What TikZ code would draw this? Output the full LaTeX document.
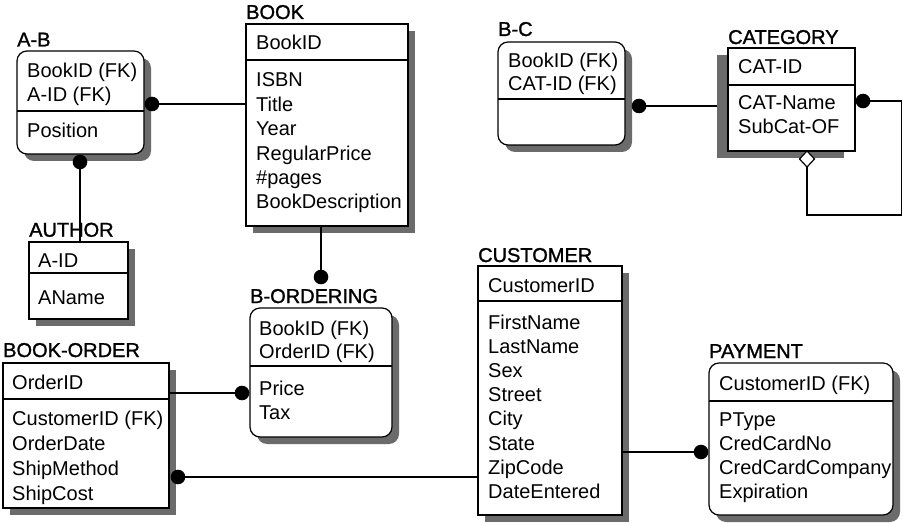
\documentclass[tikz,border=0pt]{standalone}
\usepackage{fontspec}
\setmainfont{Liberation Sans}
\newfontfamily\ttlfont[FakeBold=1.3]{Liberation Sans}
\usetikzlibrary{shapes.geometric}
\tikzset{
  box/.style={draw=black, line width=1.2pt, fill=white, inner sep=0pt, outer sep=0pt, anchor=north west},
  shad/.style={fill=black!58, draw=none, inner sep=0pt, outer sep=0pt, anchor=north west},
  rnd/.style={rounded corners=10pt},
  txt/.style={anchor=base west, inner sep=0pt, font=\fontsize{20}{24}\selectfont},
  ttl/.style={anchor=base west, inner sep=0pt, font=\fontsize{20}{24}\ttlfont},
  conn/.style={line width=1.4pt},
  divl/.style={line width=1.2pt},
  dot/.style={circle, fill=black, draw=none, inner sep=0pt, outer sep=0pt, minimum size=14.6pt},
  dia/.style={diamond, draw=black, fill=white, line width=1.2pt, inner sep=0pt, outer sep=0pt, minimum width=15pt, minimum height=16pt},
}
\newcommand\entbox[8]{%
  \node[shad,#2,minimum width=#5pt,minimum height=#6pt] (#1-s) at (#3+#7,#4+#8) {};
  \node[box,#2,minimum width=#5pt,minimum height=#6pt] (#1) at (#3,#4) {};
}
\newcommand\divider[2]{%
  \coordinate (#1-dv) at (0,#2);
  \draw[divl] (#1.west |- #1-dv) -- (#1.east |- #1-dv);
}
\newcommand\rows[5]{%
  \foreach [count=\i] \t in {#5} {\node[txt] (#1\i) at (#2,#3+#4*\i-#4) {\t};}
}
\begin{document}
\begin{tikzpicture}[x=1pt,y=-1pt]
\useasboundingbox (0,0) rectangle (903,524);

% A-B
\entbox{ab}{rnd}{17}{51}{127}{103}{7}{7}
\node[ttl] (ab-t) at (17,46.5) {A-B};
\rows{ab-k}{27}{78}{24}{BookID (FK),A-ID (FK)}
\divider{ab}{111}
\rows{ab-a}{27}{138}{24}{Position}

% BOOK
\entbox{book}{}{246}{24}{162}{202}{7}{7}
\node[ttl] (book-t) at (246,19) {BOOK};
\rows{book-k}{256}{50}{24}{BookID}
\divider{book}{60}
\rows{book-a}{256}{87}{24.4}{ISBN,Title,Year,RegularPrice,\#pages,BookDescription}

% AUTHOR
\entbox{author}{}{29}{242}{99}{77}{7}{7}
\node[ttl] (author-t) at (29,236.7) {AUTHOR};
\rows{author-k}{38}{267}{24}{A-ID}
\divider{author}{273}
\rows{author-a}{38}{304}{24}{AName}

% B-ORDERING
\entbox{bord}{rnd}{250}{308}{142}{129}{7}{7}
\node[ttl] (bord-t) at (250,303) {B-ORDERING};
\rows{bord-k}{259}{335}{23.5}{BookID (FK),OrderID (FK)}
\divider{bord}{366}
\rows{bord-a}{259}{395}{24.5}{Price,Tax}

% BOOK-ORDER
\entbox{bo}{}{3}{363}{166}{145}{7}{7}
\node[ttl] (bo-t) at (3,357) {BOOK-ORDER};
\rows{bo-k}{12}{389}{24}{OrderID}
\divider{bo}{399}
\rows{bo-a}{12}{425}{25}{CustomerID (FK),OrderDate,ShipMethod,ShipCost}

% CUSTOMER
\entbox{cust}{}{478}{266}{144}{249}{7}{7}
\node[ttl] (cust-t) at (478,262) {CUSTOMER};
\rows{cust-k}{488}{292.7}{24}{CustomerID}
\divider{cust}{301}
\rows{cust-a}{488}{329}{24.2}{FirstName,LastName,Sex,Street,City,State,ZipCode,DateEntered}

% PAYMENT
\entbox{pay}{rnd}{709}{363}{184}{152}{7}{7}
\node[ttl] (pay-t) at (709,358) {PAYMENT};
\rows{pay-k}{719}{390}{24}{CustomerID (FK)}
\divider{pay}{401}
\rows{pay-a}{719}{426}{24}{PType,CredCardNo,CredCardCompany,Expiration}

% CATEGORY
\entbox{cat}{}{728}{48}{127}{103}{-11}{7}
\node[ttl] (cat-t) at (728,44) {CATEGORY};
\rows{cat-k}{738}{73.3}{24}{CAT-ID}
\divider{cat}{85}
\rows{cat-a}{738}{110}{24}{CAT-Name,SubCat-OF}

% B-C
\entbox{bc}{rnd}{498}{42}{127}{103}{7}{7}
\node[ttl] (bc-t) at (498,36) {B-C};
\rows{bc-k}{508}{68}{22.7}{BookID (FK),CAT-ID (FK)}
\divider{bc}{99}

% connectors
\node[dot] (d1) at (152,104) {};
\node[dot] (d2) at (80,162) {};
\node[dot] (d3) at (321,277) {};
\node[dot] (d4) at (242,393) {};
\node[dot] (d5) at (178,477) {};
\node[dot] (d6) at (701,452) {};
\node[dot] (d7) at (639,106) {};
\node[dot] (d8) at (863,101) {};
\node[dia] (dm) at (807,159) {};
\coordinate (k1) at (901.5,101);
\coordinate (k2) at (901.5,215);
\coordinate (k3) at (807,215);

\draw[conn] (d1) -- (book.west |- d1);
\draw[conn] (d2) -- (author.north -| d2);
\draw[conn] (d3) -- (book.south -| d3);
\draw[conn] (d4) -- (bo.east |- d4);
\draw[conn] (d5) -- (cust.west |- d5);
\draw[conn] (d6) -- (cust.east |- d6);
\draw[conn] (d7) -- (cat-s.west |- d7);
\draw[conn] (d8) -- (k1) -- (k2) -- (k3) -- (dm.south);
\end{tikzpicture}
\end{document}
